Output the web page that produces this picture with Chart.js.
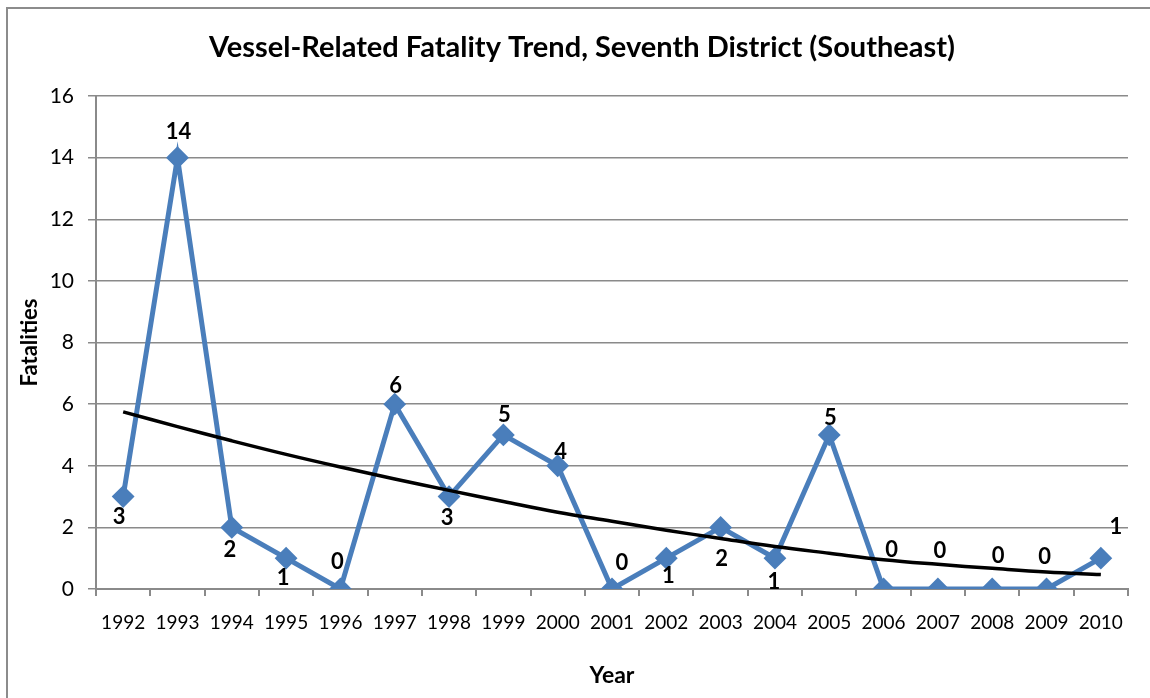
<!DOCTYPE html>
<html>
<head>
<meta charset="utf-8">
<script src="https://cdn.jsdelivr.net/npm/chart.js@4.4.1/dist/chart.umd.min.js"></script>
<style>
  html, body { margin: 0; padding: 0; background: #ffffff; }
  #wrap { position: relative; width: 1150px; height: 698px; }
</style>
</head>
<body>
<div id="wrap"><canvas id="c" width="1150" height="698"></canvas></div>
<script>
// ---- data ----
const years = ["1992","1993","1994","1995","1996","1997","1998","1999","2000","2001",
               "2002","2003","2004","2005","2006","2007","2008","2009","2010"];
const fatalities = [3, 14, 2, 1, 0, 6, 3, 5, 4, 0, 1, 2, 1, 5, 0, 0, 0, 0, 1];
// trend line values
const trendValues = [5.75, 5.27, 4.81, 4.37, 3.96, 3.57, 3.20, 2.84, 2.49, 2.20,
                     1.91, 1.64, 1.38, 1.16, 0.95, 0.80, 0.67, 0.55, 0.47];
const yTicks = [0, 2, 4, 6, 8, 10, 12, 14, 16];

const chartTitle = "Vessel-Related Fatality Trend, Seventh District (Southeast)";
const xTitle = "Year";
const yTitle = "Fatalities";

// ---- styling / label placement (pixels relative to the marker) ----
const labelOffsets = [
  [-4, 20], [1, -26], [-2, 23], [-3, 20], [-3, -27], [1, -18], [-2, 21], [1, -20], [3, -14], [10, -26],
  [2, 18], [1, 32], [-1, 24], [1, -17], [8, -39], [2, -38], [6, -33], [-2, -32], [15, -31]
];
const gridGray = "#8a8a8a";
const blue = "#4a7ebb";

const framePlugin = {
  id: "frame",
  beforeDraw(chart) {
    const ctx = chart.ctx;
    ctx.save();
    ctx.fillStyle = "#ffffff";
    ctx.fillRect(0, 0, chart.width, chart.height);
    ctx.strokeStyle = "#8c8c8c";
    ctx.lineWidth = 2;
    ctx.strokeRect(7, 8, chart.width + 20, chart.height + 20);
    ctx.restore();
  }
};

const labelPlugin = {
  id: "pointLabels",
  afterDatasetsDraw(chart) {
    const ctx = chart.ctx;
    const meta = chart.getDatasetMeta(0);
    ctx.save();
    ctx.font = "bold 22px Lato";
    ctx.fillStyle = "#000000";
    ctx.textAlign = "center";
    ctx.textBaseline = "middle";
    meta.data.forEach((pt, i) => {
      const off = labelOffsets[i] || [0, -20];
      ctx.fillText(String(fatalities[i]), pt.x + off[0], pt.y + off[1]);
    });
    ctx.restore();
  }
};

new Chart(document.getElementById("c"), {
  type: "line",
  data: {
    labels: years,
    datasets: [
      {
        label: "Fatalities",
        data: fatalities,
        borderColor: blue,
        backgroundColor: blue,
        borderWidth: 5,
        pointStyle: "rectRot",
        pointRadius: 10,
        pointBorderWidth: 2,
        pointBackgroundColor: blue,
        pointBorderColor: blue,
        tension: 0,
        order: 2
      },
      {
        label: "Trend",
        data: trendValues,
        borderColor: "#000000",
        borderWidth: 3.5,
        pointRadius: 0,
        tension: 0.4,
        order: 1
      }
    ]
  },
  options: {
    responsive: false,
    animation: false,
    events: [],
    layout: { padding: { left: 36, right: 22, top: 0, bottom: 0 } },
    plugins: {
      legend: { display: false },
      tooltip: { enabled: false },
      title: {
        display: true,
        text: chartTitle,
        color: "#000000",
        font: { family: "Lato", size: 29, weight: "bold", lineHeight: 1.2 },
        padding: { top: 30.6, bottom: 30.6 }
      }
    },
    scales: {
      x: {
        type: "category",
        offset: true,
        grid: {
          display: true,
          offset: true,
          drawOnChartArea: false,
          drawTicks: true,
          tickLength: 7,
          color: gridGray,
          lineWidth: 2
        },
        border: { display: true, color: gridGray, width: 2 },
        ticks: {
          color: "#000000",
          font: { family: "Lato", size: 19 },
          padding: 15,
          maxRotation: 0,
          autoSkip: false
        },
        title: {
          display: true,
          text: xTitle,
          color: "#000000",
          font: { family: "Lato", size: 23, weight: "bold", lineHeight: 1.2 },
          padding: { top: 0, bottom: 9 }
        },
        afterFit(scale) { scale.height = 109; }
      },
      y: {
        min: 0,
        max: 16,
        afterBuildTicks(scale) { scale.ticks = yTicks.map(v => ({ value: v })); },
        grid: {
          color: gridGray,
          lineWidth: 1.5,
          drawTicks: true,
          tickLength: 8
        },
        border: { display: true, color: gridGray, width: 2 },
        ticks: {
          color: "#000000",
          font: { family: "Lato", size: 21 },
          padding: 14
        },
        title: {
          display: true,
          text: yTitle,
          color: "#000000",
          font: { family: "Lato", size: 22, weight: "bold", lineHeight: 1.2 },
          padding: { top: -19, bottom: 0 }
        },
        afterFit(scale) { scale.width = 60; }
      }
    }
  },
  plugins: [framePlugin, labelPlugin]
});
</script>
</body>
</html>
